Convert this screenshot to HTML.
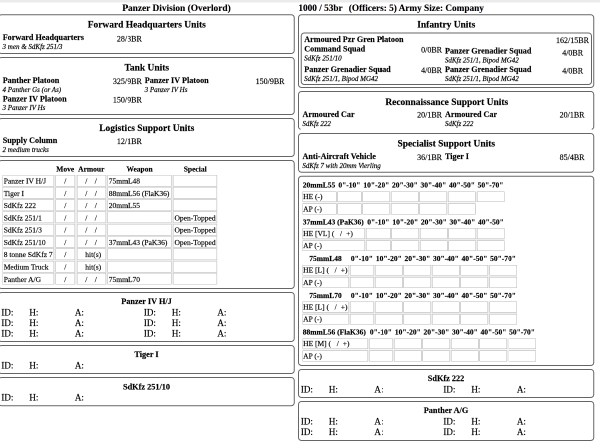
<!DOCTYPE html>
<html><head><meta charset="utf-8"><title>Panzer Division (Overlord)</title>
<style>
html,body{margin:0;padding:0;background:#fff;overflow:hidden}
body{width:600px;height:447px;position:relative;font-family:"Liberation Serif",serif;color:#000}
#pg{position:absolute;left:0;top:0;width:1200px;height:894px;transform:scale(0.5);transform-origin:0 0;background:#fff;overflow:hidden;will-change:transform}
#bar{position:absolute;left:0;top:0;width:1200px;height:5px;background:#ebebeb}
.t{position:absolute;white-space:nowrap;line-height:20px;font-family:"Liberation Serif",serif;-webkit-text-stroke:0.3px #000}
.b{font-weight:bold}.i{font-style:italic;-webkit-text-stroke:0.35px #000}
#bxs{position:absolute;left:0;top:0;overflow:hidden}
.lcd{-webkit-text-stroke:0;text-shadow:-0.6px 0 0.3px rgba(210,120,40,0.4),0.6px 0 0.3px rgba(40,100,210,0.4)}
.g{position:absolute;background:#ececec}
.c{position:absolute;border:1px solid #c0c0c0;box-sizing:content-box;background:#fff}
.w{border-color:#b8b8b8}
</style></head><body><div id="pg"><div id="bar"></div>
<svg id="bxs" width="1200" height="894" viewBox="0 0 1200 894" fill="none" stroke="#666" stroke-width="2"><rect x="-3.00" y="29.50" width="591.50" height="77.50" rx="6" ry="6"/><rect x="-3.00" y="115.00" width="591.50" height="114.00" rx="6" ry="6"/><rect x="-3.00" y="237.00" width="591.50" height="76.00" rx="6" ry="6"/><rect x="-3.00" y="321.00" width="591.50" height="256.00" rx="6" ry="6"/><rect x="-3.00" y="585.00" width="591.50" height="98.00" rx="6" ry="6"/><rect x="-3.00" y="691.00" width="591.50" height="56.00" rx="6" ry="6"/><rect x="-3.00" y="755.00" width="591.50" height="56.50" rx="6" ry="6"/><rect x="597.00" y="29.50" width="590.50" height="145.50" rx="6" ry="6"/><rect x="597.00" y="183.00" width="590.50" height="76.00" rx="6" ry="6"/><rect x="601.00" y="257.00" width="582.50" height="4" fill="#fff" stroke="none"/><rect x="597.00" y="267.00" width="590.50" height="77.50" rx="6" ry="6"/><rect x="597.00" y="352.50" width="590.50" height="378.50" rx="6" ry="6"/><rect x="597.00" y="739.00" width="590.50" height="56.00" rx="6" ry="6"/><rect x="597.00" y="803.00" width="590.50" height="78.00" rx="6" ry="6"/><rect x="602.50" y="66.00" width="580.50" height="103.00" rx="6" ry="6"/></svg>
<div class="t b lcd" style="top:5.80px;font-size:18.72px;left:244.60px;">Panzer Division (Overlord)</div>
<div class="t b lcd" style="top:5.90px;font-size:18.5px;left:596.80px;">1000 / 53br</div>
<div class="t b lcd" style="top:5.90px;font-size:18.5px;left:697.60px;">(Officers: 5) Army Size: Company</div>
<div class="t b" style="top:38.90px;font-size:18.9px;left:-6.50px;width:600px;text-align:center;">Forward Headquarters Units</div>
<div class="t b" style="top:65.10px;font-size:16.3px;left:5.40px;">Forward Headquarters</div>
<div class="t" style="top:67.60px;font-size:16px;right:916.40px;">28/3BR</div>
<div class="t i" style="top:84.00px;font-size:14px;left:5.10px;">3 men &amp; SdKfz 251/3</div>
<div class="t b" style="top:125.30px;font-size:18.9px;left:-6.50px;width:600px;text-align:center;">Tank Units</div>
<div class="t b" style="top:150.70px;font-size:16.3px;left:5.40px;">Panther Platoon</div>
<div class="t" style="top:153.10px;font-size:16px;right:916.40px;">325/9BR</div>
<div class="t i" style="top:169.60px;font-size:14px;left:5.10px;">4 Panther Gs (or As)</div>
<div class="t b" style="top:150.70px;font-size:16.3px;left:289.50px;">Panzer IV Platoon</div>
<div class="t" style="top:153.10px;font-size:16px;right:631.00px;">150/9BR</div>
<div class="t i" style="top:169.60px;font-size:14px;left:289.20px;">3 Panzer IV Hs</div>
<div class="t b" style="top:187.50px;font-size:16.3px;left:5.40px;">Panzer IV Platoon</div>
<div class="t" style="top:189.90px;font-size:16px;right:916.40px;">150/9BR</div>
<div class="t i" style="top:206.40px;font-size:14px;left:5.10px;">3 Panzer IV Hs</div>
<div class="t b" style="top:245.60px;font-size:18.9px;left:-6.50px;width:600px;text-align:center;">Logistics Support Units</div>
<div class="t b" style="top:270.80px;font-size:16.3px;left:5.40px;">Supply Column</div>
<div class="t" style="top:273.20px;font-size:16px;right:916.40px;">12/1BR</div>
<div class="t i" style="top:289.70px;font-size:14px;left:5.10px;">2 medium trucks</div>
<div class="t b" style="top:328.20px;font-size:15px;left:-169.50px;width:600px;text-align:center;">Move</div>
<div class="t b" style="top:328.20px;font-size:15px;left:-117.40px;width:600px;text-align:center;">Armour</div>
<div class="t b" style="top:328.20px;font-size:15px;left:-21.00px;width:600px;text-align:center;">Weapon</div>
<div class="t b" style="top:328.20px;font-size:15px;left:90.40px;width:600px;text-align:center;">Special</div>
<div class="g" style="left:5.00px;top:349.70px;width:429.50px;height:219.40px"></div>
<div class="c v" style="left:5.00px;top:349.70px;width:101.20px;height:21.00px"></div>
<div class="c v" style="left:111.00px;top:349.70px;width:37.00px;height:21.00px"></div>
<div class="c v" style="left:153.50px;top:349.70px;width:56.20px;height:21.00px"></div>
<div class="c v" style="left:214.70px;top:349.70px;width:126.60px;height:21.00px"></div>
<div class="c v" style="left:346.30px;top:349.70px;width:86.20px;height:21.00px"></div>
<div class="t" style="top:352.10px;font-size:15px;left:7.40px;">Panzer IV H/J</div>
<div class="t" style="top:352.10px;font-size:15px;left:-169.50px;width:600px;text-align:center;">/</div>
<div class="t" style="top:352.10px;font-size:15px;left:-127.40px;width:600px;text-align:center;">/</div>
<div class="t" style="top:352.10px;font-size:15px;left:-108.30px;width:600px;text-align:center;">/</div>
<div class="t" style="top:352.10px;font-size:15px;left:217.60px;">75mmL48</div>
<div class="c v" style="left:5.00px;top:374.25px;width:101.20px;height:21.00px"></div>
<div class="c v" style="left:111.00px;top:374.25px;width:37.00px;height:21.00px"></div>
<div class="c v" style="left:153.50px;top:374.25px;width:56.20px;height:21.00px"></div>
<div class="c v" style="left:214.70px;top:374.25px;width:126.60px;height:21.00px"></div>
<div class="c v" style="left:346.30px;top:374.25px;width:86.20px;height:21.00px"></div>
<div class="t" style="top:376.65px;font-size:15px;left:7.40px;">Tiger I</div>
<div class="t" style="top:376.65px;font-size:15px;left:-169.50px;width:600px;text-align:center;">/</div>
<div class="t" style="top:376.65px;font-size:15px;left:-127.40px;width:600px;text-align:center;">/</div>
<div class="t" style="top:376.65px;font-size:15px;left:-108.30px;width:600px;text-align:center;">/</div>
<div class="t" style="top:376.65px;font-size:15px;left:217.60px;">88mmL56 (FlaK36)</div>
<div class="c v" style="left:5.00px;top:398.80px;width:101.20px;height:21.00px"></div>
<div class="c v" style="left:111.00px;top:398.80px;width:37.00px;height:21.00px"></div>
<div class="c v" style="left:153.50px;top:398.80px;width:56.20px;height:21.00px"></div>
<div class="c v" style="left:214.70px;top:398.80px;width:126.60px;height:21.00px"></div>
<div class="c v" style="left:346.30px;top:398.80px;width:86.20px;height:21.00px"></div>
<div class="t" style="top:401.20px;font-size:15px;left:7.40px;">SdKfz 222</div>
<div class="t" style="top:401.20px;font-size:15px;left:-169.50px;width:600px;text-align:center;">/</div>
<div class="t" style="top:401.20px;font-size:15px;left:-127.40px;width:600px;text-align:center;">/</div>
<div class="t" style="top:401.20px;font-size:15px;left:-108.30px;width:600px;text-align:center;">/</div>
<div class="t" style="top:401.20px;font-size:15px;left:217.60px;">20mmL55</div>
<div class="c v" style="left:5.00px;top:423.35px;width:101.20px;height:21.00px"></div>
<div class="c v" style="left:111.00px;top:423.35px;width:37.00px;height:21.00px"></div>
<div class="c v" style="left:153.50px;top:423.35px;width:56.20px;height:21.00px"></div>
<div class="c v" style="left:214.70px;top:423.35px;width:126.60px;height:21.00px"></div>
<div class="c v" style="left:346.30px;top:423.35px;width:86.20px;height:21.00px"></div>
<div class="t" style="top:425.75px;font-size:15px;left:7.40px;">SdKfz 251/1</div>
<div class="t" style="top:425.75px;font-size:15px;left:-169.50px;width:600px;text-align:center;">/</div>
<div class="t" style="top:425.75px;font-size:15px;left:-127.40px;width:600px;text-align:center;">/</div>
<div class="t" style="top:425.75px;font-size:15px;left:-108.30px;width:600px;text-align:center;">/</div>
<div class="t" style="top:425.75px;font-size:15px;left:349.00px;">Open-Topped</div>
<div class="c v" style="left:5.00px;top:447.90px;width:101.20px;height:21.00px"></div>
<div class="c v" style="left:111.00px;top:447.90px;width:37.00px;height:21.00px"></div>
<div class="c v" style="left:153.50px;top:447.90px;width:56.20px;height:21.00px"></div>
<div class="c v" style="left:214.70px;top:447.90px;width:126.60px;height:21.00px"></div>
<div class="c v" style="left:346.30px;top:447.90px;width:86.20px;height:21.00px"></div>
<div class="t" style="top:450.30px;font-size:15px;left:7.40px;">SdKfz 251/3</div>
<div class="t" style="top:450.30px;font-size:15px;left:-169.50px;width:600px;text-align:center;">/</div>
<div class="t" style="top:450.30px;font-size:15px;left:-127.40px;width:600px;text-align:center;">/</div>
<div class="t" style="top:450.30px;font-size:15px;left:-108.30px;width:600px;text-align:center;">/</div>
<div class="t" style="top:450.30px;font-size:15px;left:349.00px;">Open-Topped</div>
<div class="c v" style="left:5.00px;top:472.45px;width:101.20px;height:21.00px"></div>
<div class="c v" style="left:111.00px;top:472.45px;width:37.00px;height:21.00px"></div>
<div class="c v" style="left:153.50px;top:472.45px;width:56.20px;height:21.00px"></div>
<div class="c v" style="left:214.70px;top:472.45px;width:126.60px;height:21.00px"></div>
<div class="c v" style="left:346.30px;top:472.45px;width:86.20px;height:21.00px"></div>
<div class="t" style="top:474.85px;font-size:15px;left:7.40px;">SdKfz 251/10</div>
<div class="t" style="top:474.85px;font-size:15px;left:-169.50px;width:600px;text-align:center;">/</div>
<div class="t" style="top:474.85px;font-size:15px;left:-127.40px;width:600px;text-align:center;">/</div>
<div class="t" style="top:474.85px;font-size:15px;left:-108.30px;width:600px;text-align:center;">/</div>
<div class="t" style="top:474.85px;font-size:15px;left:217.60px;">37mmL43 (PaK36)</div>
<div class="t" style="top:474.85px;font-size:15px;left:349.00px;">Open-Topped</div>
<div class="c v" style="left:5.00px;top:497.00px;width:101.20px;height:21.00px"></div>
<div class="c v" style="left:111.00px;top:497.00px;width:37.00px;height:21.00px"></div>
<div class="c v" style="left:153.50px;top:497.00px;width:56.20px;height:21.00px"></div>
<div class="c v" style="left:214.70px;top:497.00px;width:126.60px;height:21.00px"></div>
<div class="c v" style="left:346.30px;top:497.00px;width:86.20px;height:21.00px"></div>
<div class="t" style="top:499.40px;font-size:15px;left:7.40px;">8 tonne SdKfz 7</div>
<div class="t" style="top:499.40px;font-size:15px;left:-169.50px;width:600px;text-align:center;">/</div>
<div class="t" style="top:499.40px;font-size:15px;left:170.60px;">hit(s)</div>
<div class="c v" style="left:5.00px;top:521.55px;width:101.20px;height:21.00px"></div>
<div class="c v" style="left:111.00px;top:521.55px;width:37.00px;height:21.00px"></div>
<div class="c v" style="left:153.50px;top:521.55px;width:56.20px;height:21.00px"></div>
<div class="c v" style="left:214.70px;top:521.55px;width:126.60px;height:21.00px"></div>
<div class="c v" style="left:346.30px;top:521.55px;width:86.20px;height:21.00px"></div>
<div class="t" style="top:523.95px;font-size:15px;left:7.40px;">Medium Truck</div>
<div class="t" style="top:523.95px;font-size:15px;left:-169.50px;width:600px;text-align:center;">/</div>
<div class="t" style="top:523.95px;font-size:15px;left:170.60px;">hit(s)</div>
<div class="c v" style="left:5.00px;top:546.10px;width:101.20px;height:21.00px"></div>
<div class="c v" style="left:111.00px;top:546.10px;width:37.00px;height:21.00px"></div>
<div class="c v" style="left:153.50px;top:546.10px;width:56.20px;height:21.00px"></div>
<div class="c v" style="left:214.70px;top:546.10px;width:126.60px;height:21.00px"></div>
<div class="c v" style="left:346.30px;top:546.10px;width:86.20px;height:21.00px"></div>
<div class="t" style="top:548.50px;font-size:15px;left:7.40px;">Panther A/G</div>
<div class="t" style="top:548.50px;font-size:15px;left:-169.50px;width:600px;text-align:center;">/</div>
<div class="t" style="top:548.50px;font-size:15px;left:-127.40px;width:600px;text-align:center;">/</div>
<div class="t" style="top:548.50px;font-size:15px;left:-108.30px;width:600px;text-align:center;">/</div>
<div class="t" style="top:548.50px;font-size:15px;left:217.60px;">75mmL70</div>
<div class="t b" style="top:592.80px;font-size:16.5px;left:-7.00px;width:600px;text-align:center;">Panzer IV H/J</div>
<div class="t" style="top:614.70px;font-size:18px;left:2.85px;">ID:</div>
<div class="t" style="top:614.70px;font-size:18px;left:58.85px;">H:</div>
<div class="t" style="top:614.70px;font-size:18px;left:149.85px;">A:</div>
<div class="t" style="top:614.70px;font-size:18px;left:287.85px;">ID:</div>
<div class="t" style="top:614.70px;font-size:18px;left:343.85px;">H:</div>
<div class="t" style="top:614.70px;font-size:18px;left:434.85px;">A:</div>
<div class="t" style="top:635.60px;font-size:18px;left:2.85px;">ID:</div>
<div class="t" style="top:635.60px;font-size:18px;left:58.85px;">H:</div>
<div class="t" style="top:635.60px;font-size:18px;left:149.85px;">A:</div>
<div class="t" style="top:635.60px;font-size:18px;left:287.85px;">ID:</div>
<div class="t" style="top:635.60px;font-size:18px;left:343.85px;">H:</div>
<div class="t" style="top:635.60px;font-size:18px;left:434.85px;">A:</div>
<div class="t" style="top:656.50px;font-size:18px;left:2.85px;">ID:</div>
<div class="t" style="top:656.50px;font-size:18px;left:58.85px;">H:</div>
<div class="t" style="top:656.50px;font-size:18px;left:149.85px;">A:</div>
<div class="t" style="top:656.50px;font-size:18px;left:287.85px;">ID:</div>
<div class="t" style="top:656.50px;font-size:18px;left:343.85px;">H:</div>
<div class="t" style="top:656.50px;font-size:18px;left:434.85px;">A:</div>
<div class="t b" style="top:699.00px;font-size:16.5px;left:-7.00px;width:600px;text-align:center;">Tiger I</div>
<div class="t" style="top:720.90px;font-size:18px;left:2.85px;">ID:</div>
<div class="t" style="top:720.90px;font-size:18px;left:58.85px;">H:</div>
<div class="t" style="top:720.90px;font-size:18px;left:149.85px;">A:</div>
<div class="t b" style="top:763.50px;font-size:16.5px;left:-7.00px;width:600px;text-align:center;">SdKfz 251/10</div>
<div class="t" style="top:785.40px;font-size:18px;left:2.85px;">ID:</div>
<div class="t" style="top:785.40px;font-size:18px;left:58.85px;">H:</div>
<div class="t" style="top:785.40px;font-size:18px;left:149.85px;">A:</div>
<div class="t b" style="top:38.90px;font-size:18.9px;left:592.50px;width:600px;text-align:center;">Infantry Units</div>
<div class="t b" style="top:68.70px;font-size:16.3px;left:608.60px;">Armoured Pzr Gren Platoon</div>
<div class="t" style="top:70.60px;font-size:16px;left:845.00px;width:600px;text-align:center;">162/15BR</div>
<div class="t b" style="top:88.20px;font-size:16.3px;left:608.60px;">Command Squad</div>
<div class="t i" style="top:107.20px;font-size:14px;left:608.30px;">SdKfz 251/10</div>
<div class="t" style="top:90.20px;font-size:16px;right:316.00px;">0/0BR</div>
<div class="t b" style="top:92.00px;font-size:16.3px;left:890.00px;">Panzer Grenadier Squad</div>
<div class="t i" style="top:110.60px;font-size:14px;left:889.70px;">SdKfz 251/1, Bipod MG42</div>
<div class="t" style="top:95.60px;font-size:16px;left:845.30px;width:600px;text-align:center;">4/0BR</div>
<div class="t b" style="top:129.30px;font-size:16.3px;left:608.60px;">Panzer Grenadier Squad</div>
<div class="t i" style="top:148.30px;font-size:14px;left:608.30px;">SdKfz 251/1, Bipod MG42</div>
<div class="t" style="top:130.70px;font-size:16px;right:316.00px;">4/0BR</div>
<div class="t b" style="top:129.10px;font-size:16.3px;left:890.00px;">Panzer Grenadier Squad</div>
<div class="t i" style="top:147.80px;font-size:14px;left:889.70px;">SdKfz 251/1, Bipod MG42</div>
<div class="t" style="top:131.90px;font-size:16px;left:845.30px;width:600px;text-align:center;">4/0BR</div>
<div class="t b" style="top:193.70px;font-size:18.9px;left:593.50px;width:600px;text-align:center;">Reconnaissance Support Units</div>
<div class="t b" style="top:218.90px;font-size:16.3px;left:605.00px;">Armoured Car</div>
<div class="t" style="top:219.80px;font-size:16px;right:316.00px;">20/1BR</div>
<div class="t i" style="top:237.80px;font-size:14px;left:604.70px;">SdKfz 222</div>
<div class="t b" style="top:218.90px;font-size:16.3px;left:890.00px;">Armoured Car</div>
<div class="t" style="top:219.80px;font-size:16px;right:31.00px;">20/1BR</div>
<div class="t i" style="top:237.80px;font-size:14px;left:889.70px;">SdKfz 222</div>
<div class="t b" style="top:277.00px;font-size:18.9px;left:592.50px;width:600px;text-align:center;">Specialist Support Units</div>
<div class="t b" style="top:302.80px;font-size:16.3px;left:605.00px;">Anti-Aircraft Vehicle</div>
<div class="t" style="top:304.60px;font-size:16px;right:316.00px;">36/1BR</div>
<div class="t i" style="top:321.70px;font-size:14px;left:604.70px;">SdKfz 7 with 20mm Vierling</div>
<div class="t b" style="top:302.80px;font-size:16.3px;left:890.00px;">Tiger I</div>
<div class="t" style="top:304.60px;font-size:16px;right:31.00px;">85/4BR</div>
<div class="t b" style="top:360.10px;font-size:15px;left:605.50px;">20mmL55</div>
<div class="t b" style="top:360.10px;font-size:15px;left:398.80px;width:600px;text-align:center;">0"-10"</div>
<div class="t b" style="top:360.10px;font-size:15px;left:452.65px;width:600px;text-align:center;">10"-20"</div>
<div class="t b" style="top:360.10px;font-size:15px;left:509.75px;width:600px;text-align:center;">20"-30"</div>
<div class="t b" style="top:360.10px;font-size:15px;left:566.85px;width:600px;text-align:center;">30"-40"</div>
<div class="t b" style="top:360.10px;font-size:15px;left:623.95px;width:600px;text-align:center;">40"-50"</div>
<div class="t b" style="top:360.10px;font-size:15px;left:681.05px;width:600px;text-align:center;">50"-70"</div>
<div class="g" style="left:604.50px;top:382.60px;width:404.10px;height:21.90px"></div>
<div class="g" style="left:604.50px;top:407.00px;width:347.00px;height:21.90px"></div>
<div class="g" style="left:604.50px;top:404.50px;width:347.00px;height:2.50px"></div>
<div class="c w" style="left:604.50px;top:382.60px;width:66.00px;height:19.90px"></div>
<div class="t" style="top:383.40px;left:606.30px;font-size:15px">HE (-)</div>
<div class="c w" style="left:674.50px;top:382.60px;width:46.60px;height:19.90px"></div>
<div class="c w" style="left:725.10px;top:382.60px;width:53.10px;height:19.90px"></div>
<div class="c w" style="left:782.20px;top:382.60px;width:53.10px;height:19.90px"></div>
<div class="c w" style="left:839.30px;top:382.60px;width:53.10px;height:19.90px"></div>
<div class="c w" style="left:896.40px;top:382.60px;width:53.10px;height:19.90px"></div>
<div class="c w" style="left:953.50px;top:382.60px;width:53.10px;height:19.90px"></div>
<div class="c w" style="left:604.50px;top:407.00px;width:66.00px;height:19.90px"></div>
<div class="t" style="top:407.80px;left:606.30px;font-size:15px">AP (-)</div>
<div class="c w" style="left:674.50px;top:407.00px;width:46.60px;height:19.90px"></div>
<div class="c w" style="left:725.10px;top:407.00px;width:53.10px;height:19.90px"></div>
<div class="c w" style="left:782.20px;top:407.00px;width:53.10px;height:19.90px"></div>
<div class="c w" style="left:839.30px;top:407.00px;width:53.10px;height:19.90px"></div>
<div class="c w" style="left:896.40px;top:407.00px;width:53.10px;height:19.90px"></div>
<div class="t b" style="top:433.60px;font-size:15px;left:605.50px;">37mmL43 (PaK36)</div>
<div class="t b" style="top:433.60px;font-size:15px;left:456.70px;width:600px;text-align:center;">0"-10"</div>
<div class="t b" style="top:433.60px;font-size:15px;left:510.55px;width:600px;text-align:center;">10"-20"</div>
<div class="t b" style="top:433.60px;font-size:15px;left:567.65px;width:600px;text-align:center;">20"-30"</div>
<div class="t b" style="top:433.60px;font-size:15px;left:624.75px;width:600px;text-align:center;">30"-40"</div>
<div class="t b" style="top:433.60px;font-size:15px;left:681.85px;width:600px;text-align:center;">40"-50"</div>
<div class="g" style="left:604.50px;top:456.10px;width:404.90px;height:21.90px"></div>
<div class="g" style="left:604.50px;top:480.50px;width:404.90px;height:21.90px"></div>
<div class="g" style="left:604.50px;top:478.00px;width:404.90px;height:2.50px"></div>
<div class="c w" style="left:604.50px;top:456.10px;width:123.90px;height:19.90px"></div>
<div class="t" style="top:456.90px;left:606.30px;font-size:15px">HE [VL] (<span style="display:inline-block;width:11.3px"></span>/<span style="display:inline-block;width:8px"></span>+)</div>
<div class="c w" style="left:732.40px;top:456.10px;width:46.60px;height:19.90px"></div>
<div class="c w" style="left:783.00px;top:456.10px;width:53.10px;height:19.90px"></div>
<div class="c w" style="left:840.10px;top:456.10px;width:53.10px;height:19.90px"></div>
<div class="c w" style="left:897.20px;top:456.10px;width:53.10px;height:19.90px"></div>
<div class="c w" style="left:954.30px;top:456.10px;width:53.10px;height:19.90px"></div>
<div class="c w" style="left:604.50px;top:480.50px;width:123.90px;height:19.90px"></div>
<div class="t" style="top:481.30px;left:606.30px;font-size:15px">AP (-)</div>
<div class="c w" style="left:732.40px;top:480.50px;width:46.60px;height:19.90px"></div>
<div class="c w" style="left:783.00px;top:480.50px;width:53.10px;height:19.90px"></div>
<div class="c w" style="left:840.10px;top:480.50px;width:53.10px;height:19.90px"></div>
<div class="c w" style="left:897.20px;top:480.50px;width:53.10px;height:19.90px"></div>
<div class="c w" style="left:954.30px;top:480.50px;width:53.10px;height:19.90px"></div>
<div class="t b" style="top:507.10px;font-size:15px;left:351.00px;width:600px;text-align:center;">75mmL48</div>
<div class="t b" style="top:507.10px;font-size:15px;left:423.80px;width:600px;text-align:center;">0"-10"</div>
<div class="t b" style="top:507.10px;font-size:15px;left:477.65px;width:600px;text-align:center;">10"-20"</div>
<div class="t b" style="top:507.10px;font-size:15px;left:534.75px;width:600px;text-align:center;">20"-30"</div>
<div class="t b" style="top:507.10px;font-size:15px;left:591.85px;width:600px;text-align:center;">30"-40"</div>
<div class="t b" style="top:507.10px;font-size:15px;left:648.95px;width:600px;text-align:center;">40"-50"</div>
<div class="t b" style="top:507.10px;font-size:15px;left:706.05px;width:600px;text-align:center;">50"-70"</div>
<div class="g" style="left:604.50px;top:529.60px;width:429.10px;height:21.90px"></div>
<div class="g" style="left:604.50px;top:554.00px;width:429.10px;height:21.90px"></div>
<div class="g" style="left:604.50px;top:551.50px;width:429.10px;height:2.50px"></div>
<div class="c w" style="left:604.50px;top:529.60px;width:91.00px;height:19.90px"></div>
<div class="t" style="top:530.40px;left:606.30px;font-size:15px">HE [L] (<span style="display:inline-block;width:11.3px"></span>/<span style="display:inline-block;width:8px"></span>+)</div>
<div class="c w" style="left:699.50px;top:529.60px;width:46.60px;height:19.90px"></div>
<div class="c w" style="left:750.10px;top:529.60px;width:53.10px;height:19.90px"></div>
<div class="c w" style="left:807.20px;top:529.60px;width:53.10px;height:19.90px"></div>
<div class="c w" style="left:864.30px;top:529.60px;width:53.10px;height:19.90px"></div>
<div class="c w" style="left:921.40px;top:529.60px;width:53.10px;height:19.90px"></div>
<div class="c w" style="left:978.50px;top:529.60px;width:53.10px;height:19.90px"></div>
<div class="c w" style="left:604.50px;top:554.00px;width:91.00px;height:19.90px"></div>
<div class="t" style="top:554.80px;left:606.30px;font-size:15px">AP (-)</div>
<div class="c w" style="left:699.50px;top:554.00px;width:46.60px;height:19.90px"></div>
<div class="c w" style="left:750.10px;top:554.00px;width:53.10px;height:19.90px"></div>
<div class="c w" style="left:807.20px;top:554.00px;width:53.10px;height:19.90px"></div>
<div class="c w" style="left:864.30px;top:554.00px;width:53.10px;height:19.90px"></div>
<div class="c w" style="left:921.40px;top:554.00px;width:53.10px;height:19.90px"></div>
<div class="c w" style="left:978.50px;top:554.00px;width:53.10px;height:19.90px"></div>
<div class="t b" style="top:580.60px;font-size:15px;left:351.00px;width:600px;text-align:center;">75mmL70</div>
<div class="t b" style="top:580.60px;font-size:15px;left:423.80px;width:600px;text-align:center;">0"-10"</div>
<div class="t b" style="top:580.60px;font-size:15px;left:477.65px;width:600px;text-align:center;">10"-20"</div>
<div class="t b" style="top:580.60px;font-size:15px;left:534.75px;width:600px;text-align:center;">20"-30"</div>
<div class="t b" style="top:580.60px;font-size:15px;left:591.85px;width:600px;text-align:center;">30"-40"</div>
<div class="t b" style="top:580.60px;font-size:15px;left:648.95px;width:600px;text-align:center;">40"-50"</div>
<div class="t b" style="top:580.60px;font-size:15px;left:706.05px;width:600px;text-align:center;">50"-70"</div>
<div class="g" style="left:604.50px;top:603.10px;width:429.10px;height:21.90px"></div>
<div class="g" style="left:604.50px;top:627.50px;width:429.10px;height:21.90px"></div>
<div class="g" style="left:604.50px;top:625.00px;width:429.10px;height:2.50px"></div>
<div class="c w" style="left:604.50px;top:603.10px;width:91.00px;height:19.90px"></div>
<div class="t" style="top:603.90px;left:606.30px;font-size:15px">HE [L] (<span style="display:inline-block;width:11.3px"></span>/<span style="display:inline-block;width:8px"></span>+)</div>
<div class="c w" style="left:699.50px;top:603.10px;width:46.60px;height:19.90px"></div>
<div class="c w" style="left:750.10px;top:603.10px;width:53.10px;height:19.90px"></div>
<div class="c w" style="left:807.20px;top:603.10px;width:53.10px;height:19.90px"></div>
<div class="c w" style="left:864.30px;top:603.10px;width:53.10px;height:19.90px"></div>
<div class="c w" style="left:921.40px;top:603.10px;width:53.10px;height:19.90px"></div>
<div class="c w" style="left:978.50px;top:603.10px;width:53.10px;height:19.90px"></div>
<div class="c w" style="left:604.50px;top:627.50px;width:91.00px;height:19.90px"></div>
<div class="t" style="top:628.30px;left:606.30px;font-size:15px">AP (-)</div>
<div class="c w" style="left:699.50px;top:627.50px;width:46.60px;height:19.90px"></div>
<div class="c w" style="left:750.10px;top:627.50px;width:53.10px;height:19.90px"></div>
<div class="c w" style="left:807.20px;top:627.50px;width:53.10px;height:19.90px"></div>
<div class="c w" style="left:864.30px;top:627.50px;width:53.10px;height:19.90px"></div>
<div class="c w" style="left:921.40px;top:627.50px;width:53.10px;height:19.90px"></div>
<div class="c w" style="left:978.50px;top:627.50px;width:53.10px;height:19.90px"></div>
<div class="t b" style="top:654.10px;font-size:15px;left:605.50px;">88mmL56 (FlaK36)</div>
<div class="t b" style="top:654.10px;font-size:15px;left:461.80px;width:600px;text-align:center;">0"-10"</div>
<div class="t b" style="top:654.10px;font-size:15px;left:515.65px;width:600px;text-align:center;">10"-20"</div>
<div class="t b" style="top:654.10px;font-size:15px;left:572.75px;width:600px;text-align:center;">20"-30"</div>
<div class="t b" style="top:654.10px;font-size:15px;left:629.85px;width:600px;text-align:center;">30"-40"</div>
<div class="t b" style="top:654.10px;font-size:15px;left:686.95px;width:600px;text-align:center;">40"-50"</div>
<div class="t b" style="top:654.10px;font-size:15px;left:744.05px;width:600px;text-align:center;">50"-70"</div>
<div class="g" style="left:604.50px;top:676.60px;width:467.10px;height:21.90px"></div>
<div class="g" style="left:604.50px;top:701.00px;width:467.10px;height:21.90px"></div>
<div class="g" style="left:604.50px;top:698.50px;width:467.10px;height:2.50px"></div>
<div class="c w" style="left:604.50px;top:676.60px;width:129.00px;height:19.90px"></div>
<div class="t" style="top:677.40px;left:606.30px;font-size:15px">HE [M] (<span style="display:inline-block;width:11.3px"></span>/<span style="display:inline-block;width:8px"></span>+)</div>
<div class="c w" style="left:737.50px;top:676.60px;width:46.60px;height:19.90px"></div>
<div class="c w" style="left:788.10px;top:676.60px;width:53.10px;height:19.90px"></div>
<div class="c w" style="left:845.20px;top:676.60px;width:53.10px;height:19.90px"></div>
<div class="c w" style="left:902.30px;top:676.60px;width:53.10px;height:19.90px"></div>
<div class="c w" style="left:959.40px;top:676.60px;width:53.10px;height:19.90px"></div>
<div class="c w" style="left:1016.50px;top:676.60px;width:53.10px;height:19.90px"></div>
<div class="c w" style="left:604.50px;top:701.00px;width:129.00px;height:19.90px"></div>
<div class="t" style="top:701.80px;left:606.30px;font-size:15px">AP (-)</div>
<div class="c w" style="left:737.50px;top:701.00px;width:46.60px;height:19.90px"></div>
<div class="c w" style="left:788.10px;top:701.00px;width:53.10px;height:19.90px"></div>
<div class="c w" style="left:845.20px;top:701.00px;width:53.10px;height:19.90px"></div>
<div class="c w" style="left:902.30px;top:701.00px;width:53.10px;height:19.90px"></div>
<div class="c w" style="left:959.40px;top:701.00px;width:53.10px;height:19.90px"></div>
<div class="c w" style="left:1016.50px;top:701.00px;width:53.10px;height:19.90px"></div>
<div class="t b" style="top:746.70px;font-size:16.5px;left:592.00px;width:600px;text-align:center;">SdKfz 222</div>
<div class="t" style="top:768.60px;font-size:18px;left:601.80px;">ID:</div>
<div class="t" style="top:768.60px;font-size:18px;left:657.80px;">H:</div>
<div class="t" style="top:768.60px;font-size:18px;left:748.80px;">A:</div>
<div class="t" style="top:768.60px;font-size:18px;left:886.80px;">ID:</div>
<div class="t" style="top:768.60px;font-size:18px;left:942.80px;">H:</div>
<div class="t" style="top:768.60px;font-size:18px;left:1033.80px;">A:</div>
<div class="t b" style="top:811.10px;font-size:16.5px;left:592.00px;width:600px;text-align:center;">Panther A/G</div>
<div class="t" style="top:833.00px;font-size:18px;left:601.80px;">ID:</div>
<div class="t" style="top:833.00px;font-size:18px;left:657.80px;">H:</div>
<div class="t" style="top:833.00px;font-size:18px;left:748.80px;">A:</div>
<div class="t" style="top:833.00px;font-size:18px;left:886.80px;">ID:</div>
<div class="t" style="top:833.00px;font-size:18px;left:942.80px;">H:</div>
<div class="t" style="top:833.00px;font-size:18px;left:1033.80px;">A:</div>
<div class="t" style="top:853.90px;font-size:18px;left:601.80px;">ID:</div>
<div class="t" style="top:853.90px;font-size:18px;left:657.80px;">H:</div>
<div class="t" style="top:853.90px;font-size:18px;left:748.80px;">A:</div>
<div class="t" style="top:853.90px;font-size:18px;left:886.80px;">ID:</div>
<div class="t" style="top:853.90px;font-size:18px;left:942.80px;">H:</div>
<div class="t" style="top:853.90px;font-size:18px;left:1033.80px;">A:</div>
</div></body></html>
